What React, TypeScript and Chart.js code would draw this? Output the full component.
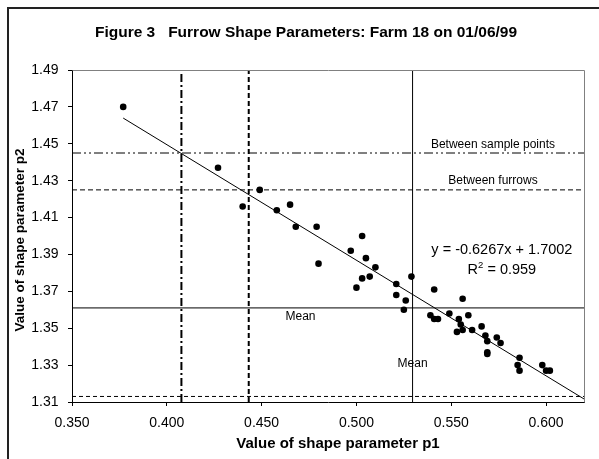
import React, { useEffect, useRef } from "react";
import { Chart, registerables } from "chart.js";

Chart.register(...registerables);

// ---- Data ----
const p1Values = [
  0.377, 0.427, 0.440, 0.449, 0.458, 0.465, 0.468, 0.479, 0.480, 0.503,
  0.497, 0.505, 0.510, 0.503, 0.507, 0.500, 0.521, 0.529, 0.521, 0.526,
  0.525, 0.541, 0.556, 0.539, 0.541, 0.543, 0.549, 0.554, 0.559, 0.555,
  0.553, 0.556, 0.561, 0.566, 0.568, 0.569, 0.569, 0.569, 0.574, 0.576,
  0.586, 0.585, 0.586, 0.598, 0.600, 0.602,
];
const p2Values = [
  1.470, 1.437, 1.416, 1.425, 1.414, 1.417, 1.405, 1.405, 1.385, 1.400,
  1.392, 1.388, 1.383, 1.377, 1.378, 1.372, 1.374, 1.378, 1.368, 1.365,
  1.360, 1.371, 1.366, 1.357, 1.355, 1.355, 1.358, 1.355, 1.357, 1.352,
  1.348, 1.349, 1.349, 1.351, 1.346, 1.343, 1.337, 1.336, 1.345, 1.342,
  1.334, 1.330, 1.327, 1.330, 1.327, 1.327,
];

const trendSlope = -0.6267;
const trendIntercept = 1.7002;
const trendR2 = 0.959;
const trendXRange = [0.377, 0.62];

const xTickValues = [0.35, 0.4, 0.45, 0.5, 0.55, 0.6];
const yTickValues = [1.31, 1.33, 1.35, 1.37, 1.39, 1.41, 1.43, 1.45, 1.47, 1.49];
const xMin = 0.35;
const xMax = 0.62;
const yMin = 1.31;
const yMax = 1.49;

// reference lines
const meanP1 = 0.5296;
const betweenSampleP1 = 0.4077;
const betweenFurrowsP1 = 0.4432;
const meanP2 = 1.361;
const betweenSampleP2 = 1.445;
const betweenFurrowsP2 = 1.425;
const lowerP2 = 1.313;

const FONT = "Arial, 'Liberation Sans', Helvetica, sans-serif";

const hLine = (y: number) => [
  { x: xMin, y },
  { x: xMax, y },
];
const vLine = (x: number) => [
  { x, y: yMin },
  { x, y: yMax },
];

const textPlugin = {
  id: "figureText",
  beforeDraw(chart: any) {
    const ctx = chart.ctx;
    ctx.save();
    ctx.fillStyle = "#fff";
    ctx.fillRect(0, 0, chart.width, chart.height);
    // outer frame (left & top visible)
    ctx.strokeStyle = "#222";
    ctx.lineWidth = 2;
    ctx.beginPath();
    ctx.moveTo(8, chart.height + 2);
    ctx.lineTo(8, 8);
    ctx.lineTo(chart.width + 2, 8);
    ctx.stroke();
    ctx.restore();
  },
  afterDatasetsDraw(chart: any) {
    const ctx = chart.ctx;
    const xs = chart.scales.x;
    const ys = chart.scales.y;
    const area = chart.chartArea;
    ctx.save();
    // plot border top/right in gray
    ctx.strokeStyle = "#808080";
    ctx.lineWidth = 1;
    ctx.beginPath();
    ctx.moveTo(Math.round(area.left) + 0.5, Math.round(area.top) + 0.5);
    ctx.lineTo(Math.round(area.right) + 0.5, Math.round(area.top) + 0.5);
    ctx.lineTo(Math.round(area.right) + 0.5, Math.round(area.bottom) + 0.5);
    ctx.stroke();

    ctx.fillStyle = "#000";
    ctx.textAlign = "center";
    ctx.textBaseline = "middle";

    // reference line labels
    ctx.font = `12px ${FONT}`;
    ctx.fillText("Between sample points", xs.getPixelForValue(0.572), ys.getPixelForValue(betweenSampleP2) - 8.5);
    ctx.fillText("Between furrows", xs.getPixelForValue(0.572), ys.getPixelForValue(betweenFurrowsP2) - 9.5);
    ctx.fillText("Mean", xs.getPixelForValue(0.4705), ys.getPixelForValue(meanP2) + 9);
    ctx.fillText("Mean", xs.getPixelForValue(meanP1), ys.getPixelForValue(1.3308));

    // trend equation
    ctx.font = `14.5px ${FONT}`;
    const eq = `y = ${trendSlope.toFixed(4)}x + ${trendIntercept.toFixed(4)}`;
    ctx.fillText(eq, xs.getPixelForValue(0.5767), ys.getPixelForValue(1.3924));
    // R² with superscript
    const cx = xs.getPixelForValue(0.5767);
    const cy = ys.getPixelForValue(1.3815);
    ctx.textAlign = "left";
    const rPart = "R";
    const rest = ` = ${trendR2.toFixed(3)}`;
    ctx.font = `14.5px ${FONT}`;
    const wR = ctx.measureText(rPart).width;
    const wRest = ctx.measureText(rest).width;
    ctx.font = `9.5px ${FONT}`;
    const wSup = ctx.measureText("2").width;
    const total = wR + wSup + wRest;
    let sx = cx - total / 2;
    ctx.font = `14.5px ${FONT}`;
    ctx.fillText(rPart, sx, cy);
    sx += wR;
    ctx.font = `9.5px ${FONT}`;
    ctx.fillText("2", sx, cy - 4.5);
    sx += wSup;
    ctx.font = `14.5px ${FONT}`;
    ctx.fillText(rest, sx, cy);

    // titles
    ctx.textAlign = "center";
    ctx.font = `bold 15.5px ${FONT}`;
    ctx.fillText("Figure 3   Furrow Shape Parameters: Farm 18 on 01/06/99", 306, 33);
    ctx.font = `bold 15px ${FONT}`;
    ctx.fillText("Value of shape parameter p1", 338, 443.5);
    ctx.save();
    ctx.translate(20, 240);
    ctx.rotate(-Math.PI / 2);
    ctx.font = `bold 13.5px ${FONT}`;
    ctx.fillText("Value of shape parameter p2", 0, 0);
    ctx.restore();

    ctx.restore();
  },
};

export default function App() {
  const canvasRef = useRef<HTMLCanvasElement | null>(null);

  useEffect(() => {
    if (!canvasRef.current) return;
    Chart.defaults.font.family = FONT;
    Chart.defaults.color = "#000";

    const points = p1Values.map((x, i) => ({ x, y: p2Values[i] }));
    const trend = trendXRange.map((x) => ({ x, y: trendSlope * x + trendIntercept }));

    const refLine = (data: any[], dash: number[], width: number) => ({
      type: "line" as const,
      data,
      showLine: true,
      borderColor: "#000",
      borderWidth: width,
      borderDash: dash,
      pointRadius: 0,
      fill: false,
    });

    const chart = new Chart(canvasRef.current, {
      type: "scatter",
      data: {
        datasets: [
          refLine(hLine(betweenSampleP2), [9, 3, 2, 3, 2, 3], 1),
          refLine(hLine(betweenFurrowsP2), [5, 3], 1),
          refLine(hLine(meanP2), [], 1),
          refLine(hLine(lowerP2), [4, 3], 1),
          refLine(vLine(betweenSampleP1), [8, 3, 2, 3], 2),
          refLine(vLine(betweenFurrowsP1), [5, 3], 2),
          refLine(vLine(meanP1), [], 1),
          refLine(trend, [], 1),
          {
            type: "scatter" as const,
            data: points,
            pointRadius: 3.3,
            pointBackgroundColor: "#000",
            pointBorderWidth: 0,
            pointBorderColor: "#000",
          },
        ] as any,
      },
      options: {
        animation: false,
        responsive: false,
        devicePixelRatio: 1,
        layout: { padding: { left: 0, top: 70, right: 15, bottom: 0 } },
        plugins: {
          legend: { display: false },
          tooltip: { enabled: false },
          title: { display: false },
        },
        scales: {
          x: {
            type: "linear",
            min: xMin,
            max: xMax,
            afterBuildTicks: (s: any) => {
              s.ticks = xTickValues.map((v) => ({ value: v }));
            },
            afterFit: (s: any) => {
              s.height = 57;
            },
            ticks: {
              callback: (v: any) => Number(v).toFixed(3),
              font: { size: 14 },
              color: "#000",
              padding: 8.5,
              maxRotation: 0,
              autoSkip: false,
            },
            grid: { drawOnChartArea: false, drawTicks: true, tickLength: 4, color: "#000" },
            border: { display: true, color: "#000", width: 1 },
          },
          y: {
            type: "linear",
            min: yMin,
            max: yMax,
            afterBuildTicks: (s: any) => {
              s.ticks = yTickValues.map((v) => ({ value: v }));
            },
            afterFit: (s: any) => {
              s.width = 72;
            },
            ticks: {
              callback: (v: any) => Number(v).toFixed(2),
              font: { size: 14 },
              color: "#000",
              padding: 9.5,
              autoSkip: false,
            },
            grid: { drawOnChartArea: false, drawTicks: true, tickLength: 4, color: "#000" },
            border: { display: true, color: "#000", width: 1 },
          },
        },
      },
      plugins: [textPlugin],
    } as any);

    return () => chart.destroy();
  }, []);

  return (
    <div style={{ position: "fixed", left: 0, top: 0, width: 599, height: 459 }}>
      <canvas ref={canvasRef} width={599} height={459} style={{ display: "block" }} />
    </div>
  );
}
